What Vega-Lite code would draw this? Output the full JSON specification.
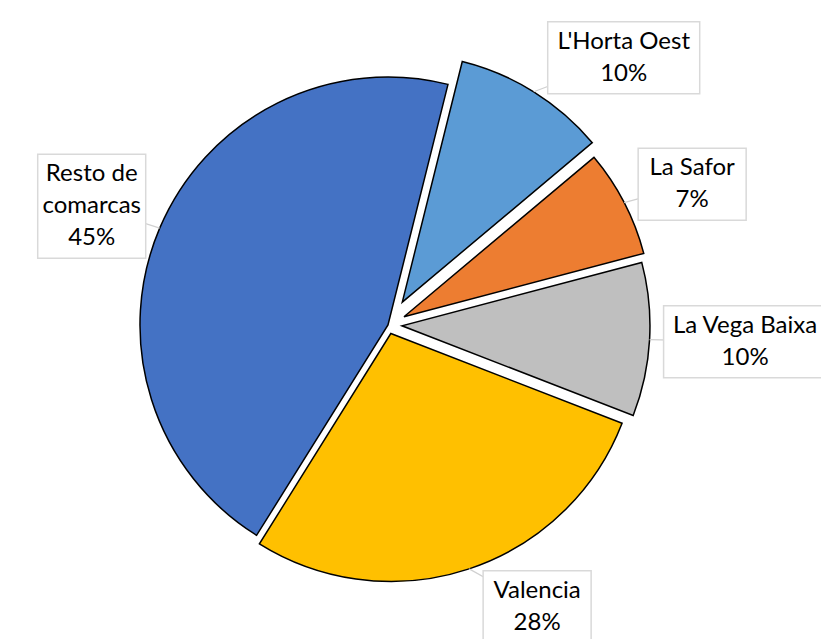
{
  "$schema": "https://vega.github.io/schema/vega-lite/v6.json",
  "width": 821,
  "height": 639,
  "autosize": {"type": "none"},
  "padding": 0,
  "background": "white",
  "config": {"view": {"stroke": null}},
  "data": {
    "values": [
      {"name": "L'Horta Oest", "value": 10},
      {"name": "La Safor", "value": 7},
      {"name": "La Vega Baixa", "value": 10},
      {"name": "Valencia", "value": 28},
      {"name": "Resto de comarcas", "value": 45}
    ]
  },
  "transform": [
    {"window": [{"op": "row_number", "as": "idx"}]},
    {"stack": "value", "groupby": [], "sort": [{"field": "idx", "order": "ascending"}], "as": ["v0", "v1"]},
    {"calculate": "0.2443 + PI * (datum.v0 + datum.v1) / 100", "as": "a"},
    {"calculate": "sin(datum.a)", "as": "s"},
    {"calculate": "cos(datum.a)", "as": "c"},
    {"calculate": "(datum.name == \"L'Horta Oest\" ? 27 : datum.name == 'La Safor' ? 18 : datum.name == 'La Vega Baixa' ? 14 : datum.name == 'Valencia' ? 9 : 0) / 248", "as": "ex"},
    {"calculate": "datum.ex * datum.s", "as": "ox"},
    {"calculate": "-datum.ex * datum.c", "as": "oy"},
    {"calculate": "(1 + datum.ex) * datum.s", "as": "tx"},
    {"calculate": "-(1 + datum.ex) * datum.c", "as": "ty"},
    {"calculate": "datum.name == 'Resto de comarcas' ? 3 : 2", "as": "nl"},
    {"calculate": "datum.name == 'Resto de comarcas' ? 8 : length(datum.name)", "as": "mc"},
    {"calculate": "(datum.mc * 11 + 20) / 496", "as": "hw"},
    {"calculate": "(datum.nl * 32 + 8) / 496", "as": "hh"},
    {"calculate": "datum.tx + (datum.s >= 0 ? 1 : -1) * (datum.hw + 14 / 248)", "as": "lx"},
    {"calculate": "datum.ty - datum.c * (datum.hh + 4 / 248)", "as": "ly"},
    {"calculate": "datum.ly - (datum.nl - 1) * 16 / 248", "as": "tyy"},
    {"calculate": "datum.lx - datum.hw", "as": "bx1"},
    {"calculate": "datum.lx + datum.hw", "as": "bx2"},
    {"calculate": "datum.ly - datum.hh", "as": "by1"},
    {"calculate": "datum.ly + datum.hh", "as": "by2"},
    {"calculate": "(datum.name == 'Resto de comarcas' ? 'Resto de\\ncomarcas' : datum.name) + '\\n' + datum.value + '%'", "as": "label"}
  ],
  "layer": [
    {
      "mark": {"type": "arc", "radius": 248, "stroke": "#000000", "strokeWidth": 1.5, "strokeJoin": "miter"},
      "encoding": {
        "x": {"field": "ox", "type": "quantitative", "axis": null, "scale": {"domain": [-1.5645, 1.746], "nice": false, "zero": false}},
        "y": {"field": "oy", "type": "quantitative", "axis": null, "scale": {"domain": [-1.3105, 1.2661], "nice": false, "zero": false, "reverse": true}},
        "theta": {"field": "v0", "type": "quantitative", "stack": null, "scale": {"domain": [0, 100], "range": [0.2443, 6.5275]}},
        "theta2": {"field": "v1"},
        "color": {
          "field": "name",
          "type": "nominal",
          "legend": null,
          "scale": {
            "domain": ["L'Horta Oest", "La Safor", "La Vega Baixa", "Valencia", "Resto de comarcas"],
            "range": ["#5B9BD5", "#ED7D31", "#BFBFBF", "#FFC000", "#4472C4"]
          }
        }
      }
    },
    {
      "mark": {"type": "rule", "color": "#d0d0d0", "strokeWidth": 1.2},
      "encoding": {
        "x": {"field": "tx", "type": "quantitative"},
        "y": {"field": "ty", "type": "quantitative"},
        "x2": {"field": "lx"},
        "y2": {"field": "ly"}
      }
    },
    {
      "mark": {"type": "rect", "fill": "white", "stroke": "#d9d9d9", "strokeWidth": 1.5},
      "encoding": {
        "x": {"field": "bx1", "type": "quantitative"},
        "x2": {"field": "bx2"},
        "y": {"field": "by1", "type": "quantitative"},
        "y2": {"field": "by2"}
      }
    },
    {
      "mark": {"type": "text", "font": "Lato", "fontSize": 24, "lineHeight": 32, "lineBreak": "\n", "align": "center", "baseline": "middle", "color": "#000000"},
      "encoding": {
        "x": {"field": "lx", "type": "quantitative"},
        "y": {"field": "tyy", "type": "quantitative"},
        "text": {"field": "label"}
      }
    }
  ]
}
